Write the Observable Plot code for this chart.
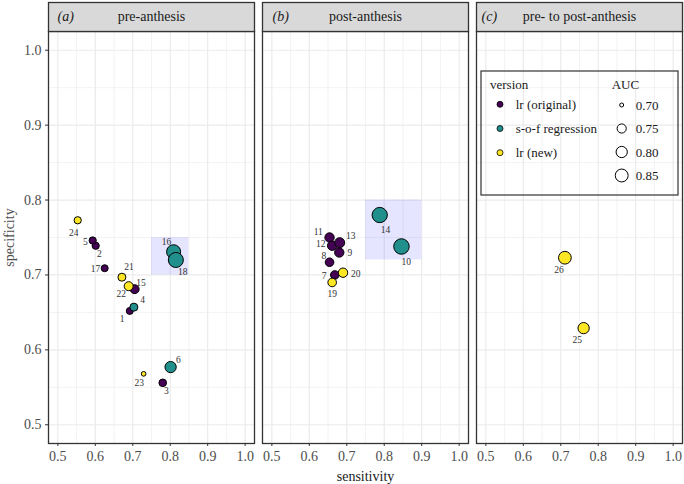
<!DOCTYPE html>
<html><head><meta charset="utf-8">
<script src="https://cdn.jsdelivr.net/npm/d3@7"></script>
<script src="https://cdn.jsdelivr.net/npm/@observablehq/plot@0.6"></script>
<style>
body{margin:0;background:#fff;}
#wrap{position:relative;width:684px;height:484px;}
#wrap svg{display:block}
#legend{position:absolute;left:0;top:0;pointer-events:none}
</style></head><body><div id="wrap"></div>
<script>
// ---- data ----
const panels = ["pre-anthesis", "post-anthesis", "pre- to post-anthesis"];
const panelLetters = ["(a)", "(b)", "(c)"];
const versions = ["lr (original)", "s-o-f regression", "lr (new)"];
const versionColors = ["#440154", "#21908C", "#FDE725"];

const ids         = [1, 2, 3, 4, 5, 6, 7, 8, 9, 10, 11, 12, 13, 14, 15, 16, 17, 18, 19, 20, 21, 22, 23, 24, 25, 26];
const panelIdx    = [0, 0, 0, 0, 0, 0, 1, 1, 1, 1, 1, 1, 1, 1, 0, 0, 0, 0, 1, 1, 0, 0, 0, 0, 2, 2];
const versionIdx  = [0, 0, 0, 1, 0, 1, 0, 0, 0, 1, 0, 0, 0, 1, 0, 1, 0, 1, 2, 2, 2, 2, 2, 2, 2, 2];
const sensitivity = [0.692, 0.601, 0.780, 0.703, 0.593, 0.801, 0.668, 0.654, 0.680, 0.846, 0.654, 0.661, 0.681, 0.788, 0.705, 0.809, 0.625, 0.815, 0.661, 0.690, 0.671, 0.689, 0.729, 0.553, 0.761, 0.711];
const specificity = [0.652, 0.739, 0.556, 0.657, 0.746, 0.577, 0.700, 0.717, 0.730, 0.738, 0.750, 0.739, 0.743, 0.780, 0.681, 0.731, 0.709, 0.720, 0.690, 0.703, 0.697, 0.685, 0.568, 0.773, 0.629, 0.723];
const aucValues   = [0.717, 0.720, 0.725, 0.730, 0.720, 0.800, 0.740, 0.740, 0.755, 0.950, 0.755, 0.755, 0.770, 0.940, 0.747, 0.890, 0.717, 0.930, 0.740, 0.755, 0.730, 0.747, 0.701, 0.720, 0.800, 0.845];

// highlighted regions
const regionPanel = [0, 1];
const regionX1 = [0.75, 0.75];
const regionX2 = [0.85, 0.90];
const regionY1 = [0.70, 0.72];
const regionY2 = [0.75, 0.80];

const majorTicks = [0.5, 0.6, 0.7, 0.8, 0.9, 1.0];
const minorTicks = [0.55, 0.65, 0.75, 0.85, 0.95];
const aucBreaks = [0.70, 0.75, 0.80, 0.85];
const aucBase = 0.70;

// label nudges (px, like ggrepel placement)
const labelNudge = {
  1: [-7.7, 8.3], 2: [3.7, 8], 3: [3.7, 7.7], 4: [8.7, -7.3], 5: [-7.3, 1.3], 6: [7.7, -6.7],
  7: [-10.7, 1], 8: [-5.7, -6.7], 9: [10.7, 0], 10: [4.7, 15.7], 11: [-11.3, -6], 12: [-11.3, -1.3],
  13: [11, -6.3], 14: [5.7, 15.3], 15: [6.3, -6], 16: [-7, -9.3], 17: [-9.3, 0.7], 18: [7, 12],
  19: [0, 12], 20: [12.7, 1.3], 21: [7, -10.7], 22: [-7.3, 8], 23: [-4.3, 9], 24: [-4, 12.7],
  25: [-6.3, 11.7], 26: [-6, 12]
};
const letterOffsets = [9, 10, 5];

// ---- build ----
const data = ids.map((id, i) => ({
  id, panel: panels[panelIdx[i]], version: versions[versionIdx[i]],
  sens: sensitivity[i], spec: specificity[i], auc: aucValues[i]
}));
const regions = regionPanel.map((p, i) => ({panel: panels[p], x1: regionX1[i], x2: regionX2[i], y1: regionY1[i], y2: regionY2[i]}));

const W = 684, H = 484, mT = 31, mB = 41, mL = 47.7, mR = 2;
const font = "'Liberation Serif', 'Times New Roman', serif";

const labelMarks = data.map(d => Plot.text([d], {
  fx: "panel", x: "sens", y: "spec", text: d => String(d.id),
  dx: labelNudge[d.id][0], dy: labelNudge[d.id][1],
  fontSize: 9.5, fill: "#333", lineAnchor: "middle"
}));
const letterMarks = panels.map((p, i) => Plot.text([p], {
  fx: d => d, text: () => panelLetters[i], frameAnchor: "top-left",
  dx: letterOffsets[i], dy: -15, textAnchor: "start", lineAnchor: "middle",
  fontStyle: "italic", fontSize: 14, fill: "#1a1a1a"
}));

const chart = Plot.plot({
  width: W, height: H,
  marginTop: mT, marginBottom: mB, marginLeft: mL, marginRight: mR,
  style: {fontFamily: font, fontSize: "14px", background: "#fff", color: "#1a1a1a"},
  fx: {domain: panels, paddingInner: 0.036, paddingOuter: 0, axis: null, label: null},
  x: {domain: [0.475, 1.025], label: null},
  y: {domain: [0.475, 1.025], label: null},
  color: {domain: versions, range: versionColors},
  r: {type: "sqrt", domain: [0, 0.3], range: [2, 8.3]},
  marks: [
    Plot.gridX(minorTicks, {stroke: "#ebebeb", strokeOpacity: 1, strokeWidth: 0.6}),
    Plot.gridY(minorTicks, {stroke: "#ebebeb", strokeOpacity: 1, strokeWidth: 0.6}),
    Plot.gridX(majorTicks, {stroke: "#ebebeb", strokeOpacity: 1, strokeWidth: 1.2}),
    Plot.gridY(majorTicks, {stroke: "#ebebeb", strokeOpacity: 1, strokeWidth: 1.2}),
    Plot.rect(regions, {fx: "panel", x1: "x1", x2: "x2", y1: "y1", y2: "y2", fill: "blue", fillOpacity: 0.1}),
    Plot.dot(data, {fx: "panel", x: "sens", y: "spec", r: d => d.auc - aucBase, fill: "version",
      stroke: "#000", strokeWidth: 1, sort: (a, b) => a.id - b.id}),
    ...labelMarks,
    Plot.frame({stroke: "#333", strokeWidth: 1.3}),
    Plot.frame({fill: "#d9d9d9", stroke: "#333", strokeWidth: 1.3, insetTop: -29, insetBottom: H - mT - mB}),
    Plot.text(panels, {fx: d => d, text: d => d, frameAnchor: "top", dy: -15, lineAnchor: "middle", fontSize: 14, fill: "#1a1a1a"}),
    ...letterMarks,
    Plot.axisX({ticks: majorTicks, tickFormat: d3.format(".1f"), tickSize: 3, tickPadding: 5, label: null, stroke: "#333", fill: "#4d4d4d", fontSize: 14}),
    Plot.axisY({ticks: majorTicks, tickFormat: d3.format(".1f"), tickSize: 3, tickPadding: 4, label: "specificity",
      labelAnchor: "center", labelArrow: "none", labelOffset: 44, stroke: "#333", fill: "#4d4d4d", fontSize: 14}),
    Plot.text(["sensitivity"], {fx: () => panels[1], frameAnchor: "bottom", dy: 33, lineAnchor: "middle", fontSize: 14, fill: "#1a1a1a"})
  ]
});
document.getElementById("wrap").appendChild(chart);

// ---- legend (overlay) ----
const rScale = chart.scale("r");
const leg = d3.select("#wrap").append("svg").attr("id", "legend").attr("width", W).attr("height", H)
  .style("font-family", font).style("font-size", "13px");
leg.append("rect").attr("x", 481).attr("y", 71).attr("width", 197).attr("height", 124)
  .attr("fill", "none").attr("stroke", "#333").attr("stroke-width", 1.2);
leg.append("text").attr("x", 490).attr("y", 84).attr("dy", "0.35em").attr("fill", "#1a1a1a").text("version");
versions.forEach((v, i) => {
  const cy = 104.3 + 24.2 * i;
  leg.append("circle").attr("cx", 500).attr("cy", cy).attr("r", 3)
    .attr("fill", versionColors[i]).attr("stroke", "#000").attr("stroke-width", 0.8);
  leg.append("text").attr("x", 515.7).attr("y", cy).attr("dy", "0.35em").attr("fill", "#1a1a1a").text(v);
});
leg.append("text").attr("x", 611.7).attr("y", 84).attr("dy", "0.35em").attr("fill", "#1a1a1a").text("AUC");
aucBreaks.forEach((b, j) => {
  const cy = 105 + 23.5 * j;
  leg.append("circle").attr("cx", 621.7).attr("cy", cy).attr("r", rScale.apply(b - aucBase))
    .attr("fill", "#fff").attr("stroke", "#000").attr("stroke-width", 1);
  leg.append("text").attr("x", 635.7).attr("y", cy).attr("dy", "0.35em").attr("fill", "#1a1a1a").text(d3.format(".2f")(b));
});
</script></body></html>
